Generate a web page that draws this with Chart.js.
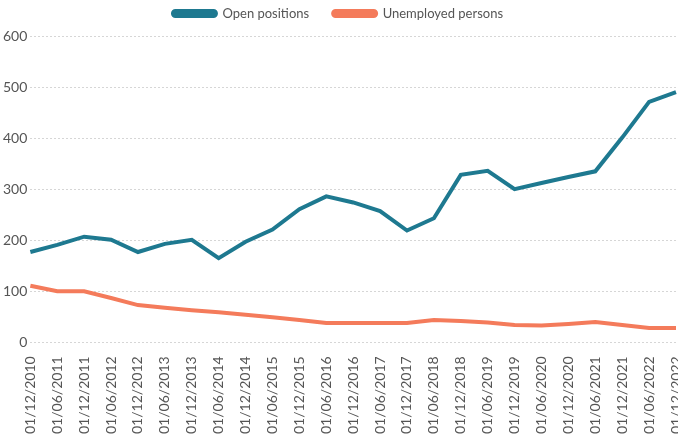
<!DOCTYPE html>
<html>
<head>
<meta charset="utf-8">
<script src="https://cdn.jsdelivr.net/npm/chart.js@4"></script>
<style>
  html, body { margin: 0; padding: 0; background: #fff; }
  #wrap { width: 678px; height: 441px; position: relative; }
</style>
</head>
<body>
<div id="wrap"><canvas id="jobsChart"></canvas></div>
<script>
// dates, every six months
const labels = [
    '01/12/2010', '01/06/2011', '01/12/2011', '01/06/2012', '01/12/2012',
    '01/06/2013', '01/12/2013', '01/06/2014', '01/12/2014', '01/06/2015',
    '01/12/2015', '01/06/2016', '01/12/2016', '01/06/2017', '01/12/2017',
    '01/06/2018', '01/12/2018', '01/06/2019', '01/12/2019', '01/06/2020',
    '01/12/2020', '01/06/2021', '01/12/2021', '01/06/2022', '01/12/2022'
];

const openPositions = [
    177, 191, 207, 201, 177, 193, 201, 165, 197, 221,
    261, 286, 274, 257, 219, 243, 328, 336, 300, 312,
    324, 335, 401, 471, 490
];

const unemployedPersons = [
    111, 100, 100, 87, 73, 68, 63, 59, 54, 49,
    44, 38, 38, 38, 38, 44, 42, 39, 34, 33,
    36, 40, 34, 28, 28
];

const yTicks = [0, 100, 200, 300, 400, 500, 600];

const TEAL = '#1e7990';
const CORAL = '#f47b5b';
const TEXT = '#555555';

Chart.defaults.font.family = 'Lato, "Open Sans", sans-serif';
Chart.defaults.font.size = 13;
Chart.defaults.color = TEXT;

// a bit more room between legend and plot
const legendGap = {
    id: 'legendGap',
    beforeLayout(chart) {
        const legend = chart.legend;
        if (!legend || legend._gapPatched) return;
        const fit = legend.fit;
        legend.fit = function () {
            fit.call(this);
            this.height += 6;
        };
        legend._gapPatched = true;
    }
};

const ctx = document.getElementById('jobsChart');
new Chart(ctx, {
    type: 'line',
    data: {
        labels: labels,
        datasets: [{
            label: 'Open positions',
            data: openPositions,
            borderColor: TEAL,
            backgroundColor: TEAL,
            borderWidth: 4,
            pointRadius: 0,
            tension: 0
        }, {
            label: 'Unemployed persons',
            data: unemployedPersons,
            borderColor: CORAL,
            backgroundColor: CORAL,
            borderWidth: 4,
            pointRadius: 0,
            tension: 0
        }]
    },
    options: {
        responsive: true,
        maintainAspectRatio: false,
        animation: false,
        layout: {
            padding: { left: 0, right: 2, top: -17, bottom: 1 }
        },
        plugins: {
            legend: {
                position: 'top',
                labels: {
                    boxWidth: 43,
                    boxHeight: 5,
                    useBorderRadius: true,
                    borderRadius: 2.5,
                    padding: 24,
                    color: TEXT,
                    font: { size: 13 }
                }
            },
            tooltip: { enabled: false }
        },
        scales: {
            x: {
                grid: { display: false },
                border: { display: false },
                ticks: {
                    autoSkip: false,
                    maxRotation: 90,
                    minRotation: 90,
                    padding: 6,
                    color: TEXT,
                    font: { size: 14 }
                },
                afterFit: (scale) => {
                    // let the last point sit at the right edge
                    scale.paddingRight = 0;
                }
            },
            y: {
                min: 0,
                max: 600,
                border: { display: false, dash: [2, 2] },
                grid: {
                    color: '#d6d6d6',
                    lineWidth: 1,
                    drawTicks: false
                },
                afterBuildTicks: (axis) => {
                    axis.ticks = yTicks.map(v => ({ value: v }));
                },
                ticks: {
                    padding: 3,
                    color: TEXT,
                    font: { size: 14 }
                }
            }
        }
    },
    plugins: [legendGap]
});
</script>
</body>
</html>
